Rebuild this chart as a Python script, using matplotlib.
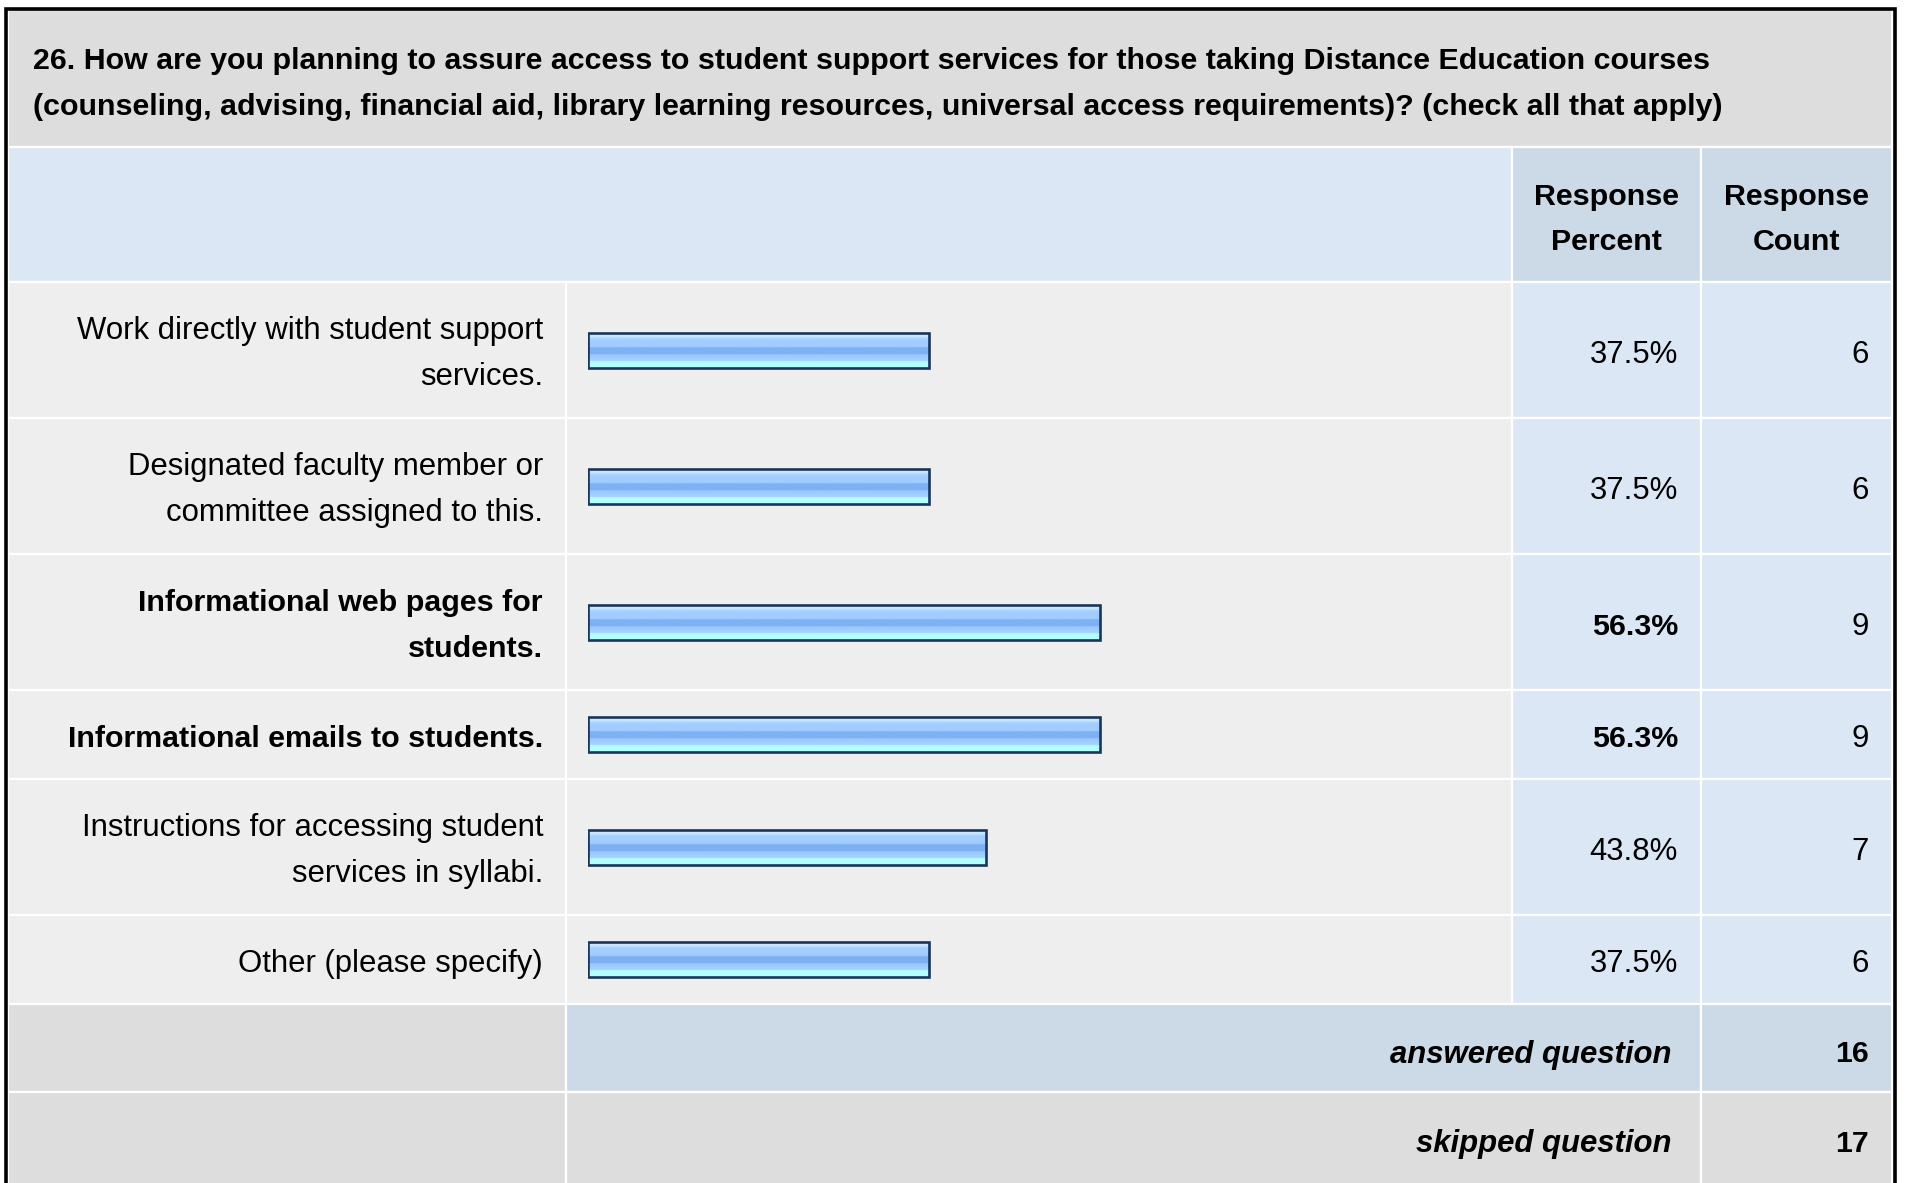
import numpy as np
import matplotlib
matplotlib.use("Agg")
import matplotlib.pyplot as plt
from matplotlib.patches import Rectangle

# ---------------- data ----------------
question_lines = [
    "26. How are you planning to assure access to student support services for those taking Distance Education courses",
    "(counseling, advising, financial aid, library learning resources, universal access requirements)? (check all that apply)",
]
categories = [
    "Work directly with student support\nservices.",
    "Designated faculty member or\ncommittee assigned to this.",
    "Informational web pages for\nstudents.",
    "Informational emails to students.",
    "Instructions for accessing student\nservices in syllabi.",
    "Other (please specify)",
]
percents = [37.5, 37.5, 56.3, 56.3, 43.8, 37.5]
counts = [6, 6, 9, 9, 7, 6]
header_percent = ["Response", "Percent"]
header_count = ["Response", "Count"]
answered_label = "answered question"
skipped_label = "skipped question"
answered_count = 16
skipped_count = 17

# ---------------- layout / style ----------------
W, H = 1907, 1183
DPI = 100
FONT = "Liberation Sans"
FS = 22.4          # regular body text size (pt)
FSB = 21.9         # bold body text size (pt)
FS_T = 21.9        # title size (pt)
C_TITLE = "#DDDDDD"
C_HEAD = "#DCE7F5"
C_HEAD2 = "#CCD9E7"
C_ROW = "#EEEEEE"
C_VAL = "#DCE7F5"
C_FOOT = "#DDDDDD"

x_left, x_lab, x_pct, x_cnt, x_right = 8, 566, 1512, 1701, 1892
y_top, y_title_end, y_head_end = 9, 147, 282
line_gap = 46.5
bar_x0, bar_x100 = 588, 1497
bar_h = 35

fig = plt.figure(figsize=(W / DPI, H / DPI), dpi=DPI)
fig.patch.set_facecolor("white")
ax = fig.add_axes([0, 0, 1, 1])
ax.set_xlim(0, W)
ax.set_ylim(H, 0)
ax.axis("off")


def cell(x0, x1, y0, y1, color):
    ax.add_patch(Rectangle((x0, y0), x1 - x0, y1 - y0, facecolor=color,
                           edgecolor="white", lw=1.6, zorder=1))


# title
cell(x_left, x_right, y_top, y_title_end, C_TITLE)
for i, ln in enumerate(question_lines):
    ax.text(33, 60.5 + i * 46.5, ln, fontsize=FS_T, fontweight="bold", family=FONT,
            ha="left", va="center", zorder=5)

# header
cell(x_left, x_pct, y_title_end, y_head_end, C_HEAD)
cell(x_pct, x_cnt, y_title_end, y_head_end, C_HEAD2)
cell(x_cnt, x_right, y_title_end, y_head_end, C_HEAD2)
for i, (a, b) in enumerate(zip(header_percent, header_count)):
    yy = 196.5 + i * 45
    ax.text((x_pct + x_cnt) / 2, yy, a, fontsize=FSB, fontweight="bold", family=FONT,
            ha="center", va="center", zorder=5)
    ax.text((x_cnt + x_right) / 2, yy, b, fontsize=FSB, fontweight="bold", family=FONT,
            ha="center", va="center", zorder=5)

# rows
pmax = max(percents)
y = y_head_end
centers = []
for lab, p, c in zip(categories, percents, counts):
    lines = lab.split("\n")
    h = 42 + 47 * len(lines)
    y0, y1 = y, y + h
    cell(x_left, x_lab, y0, y1, C_ROW)
    cell(x_lab, x_pct, y0, y1, C_ROW)
    cell(x_pct, x_cnt, y0, y1, C_VAL)
    cell(x_cnt, x_right, y0, y1, C_VAL)
    cy = (y0 + y1) / 2
    centers.append(cy)
    isb = p == pmax
    wt = "bold" if isb else "normal"
    fs = FSB if isb else FS
    n = len(lines)
    for k, ln in enumerate(lines):
        ly = cy + (k - (n - 1) / 2) * line_gap + 4
        ax.text(543, ly, ln, fontsize=fs, fontweight=wt, family=FONT,
                ha="right", va="center", zorder=5)
    ax.text(1678, cy + 4.5, f"{p:.1f}%", fontsize=fs, fontweight=wt, family=FONT,
            ha="right", va="center", zorder=5)
    ax.text(1869, cy + 4.5, f"{c}", fontsize=FS, family=FONT,
            ha="right", va="center", zorder=5)
    y = y1

# footer rows
fh = 88
ya0, ya1 = y, y + fh
cell(x_left, x_lab, ya0, ya1, C_FOOT)
cell(x_lab, x_cnt, ya0, ya1, C_HEAD2)
cell(x_cnt, x_right, ya0, ya1, C_HEAD2)
ax.text(1672, (ya0 + ya1) / 2 + 6.5, answered_label, fontsize=FS, fontweight="bold",
        style="italic", family=FONT, ha="right", va="center", zorder=5)
ax.text(1869, (ya0 + ya1) / 2 + 6.5, str(answered_count), fontsize=FSB, fontweight="bold",
        family=FONT, ha="right", va="center", zorder=5)
ys0, ys1 = ya1, ya1 + fh + 10
cell(x_left, x_lab, ys0, ys1, C_FOOT)
cell(x_lab, x_cnt, ys0, ys1, C_FOOT)
cell(x_cnt, x_right, ys0, ys1, C_FOOT)
ax.text(1672, (ys0 + 1183) / 2 + 6.5, skipped_label, fontsize=FS, fontweight="bold",
        style="italic", family=FONT, ha="right", va="center", zorder=5)
ax.text(1869, (ys0 + 1183) / 2 + 6.5, str(skipped_count), fontsize=FSB, fontweight="bold",
        family=FONT, ha="right", va="center", zorder=5)

# outer border (left, top, right)
ax.plot([5.5, 5.5, 1895, 1895], [H + 5, 8.5, 8.5, H + 5], color="black", lw=2.6,
        solid_joinstyle="miter", zorder=6, clip_on=False)

# ---------------- bars ----------------
bx = fig.add_axes([bar_x0 / W, 0, (bar_x100 - bar_x0) / W, 1])
bx.patch.set_alpha(0)
bx.axis("off")
stops = [0.0, 0.13, 0.14, 0.40, 0.41, 0.60, 0.61, 0.80, 0.81, 1.0]
cols = ["#D2EAFF", "#C4E3FF", "#A6D1FF", "#9ECBFF", "#7DB1F3", "#7DB1F3",
        "#98C7FF", "#A6D3FF", "#B2FFFF", "#B2FFFF"]
rgb = np.array([matplotlib.colors.to_rgb(c) for c in cols])
tt = np.linspace(0, 1, 120)
grad = np.stack([np.interp(tt, stops, rgb[:, j]) for j in range(3)], axis=1)[:, None, :]

bars = bx.barh(centers, percents, height=bar_h, color="none",
               edgecolor="#1B355A", linewidth=1.9, zorder=3)
for b in bars:
    x0, w = b.get_x(), b.get_width()
    yb, hb = b.get_y(), b.get_height()
    im = bx.imshow(grad, extent=[x0, x0 + w, yb + hb, yb], origin="upper",
                   aspect="auto", interpolation="bilinear", zorder=2)
    im.set_clip_path(b)
bx.set_xlim(0, 100)
bx.set_ylim(H, 0)

fig.savefig("out.png", dpi=DPI, facecolor="white")
